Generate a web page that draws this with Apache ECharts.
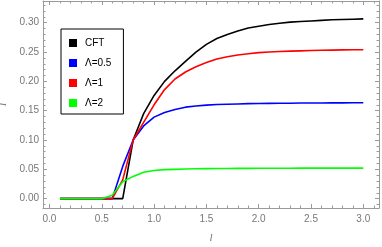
<!DOCTYPE html>
<html><head><meta charset="utf-8">
<script src="https://cdn.jsdelivr.net/npm/echarts@6/dist/echarts.min.js"></script>
<style>html,body{margin:0;padding:0;background:#fff}#c{width:382px;height:247px}</style>
</head><body><div id="c"></div>
<script>
const xs = [0.1,0.2,0.3,0.4,0.5,0.6,0.7,0.8,0.9,1.0,1.1,1.2,1.3,1.4,1.5,1.6,1.7,1.8,1.9,2.0,2.1,2.2,2.3,2.4,2.5,2.6,2.7,2.8,2.9,3.0];
const cft   = [0,0,0,0,0,0,0,0.100,0.145,0.176,0.200,0.218,0.234,0.250,0.263,0.273,0.280,0.286,0.291,0.294,0.297,0.299,0.301,0.302,0.303,0.304,0.305,0.3055,0.306,0.3065];
const lam05 = [0,0,0,0,0,0,0.055,0.100,0.124,0.139,0.147,0.152,0.156,0.158,0.1595,0.1605,0.161,0.1615,0.162,0.1622,0.1624,0.1626,0.1628,0.163,0.163,0.1632,0.1633,0.1634,0.1635,0.1636];
const lam1  = [0,0,0,0,0,0,0.032,0.100,0.130,0.160,0.186,0.204,0.216,0.225,0.232,0.238,0.242,0.245,0.247,0.249,0.250,0.251,0.2515,0.252,0.2525,0.253,0.2533,0.2536,0.2538,0.254];
const lam2  = [0,0,0,0,0,0.006,0.029,0.038,0.045,0.048,0.0495,0.050,0.0505,0.051,0.0512,0.0514,0.0515,0.0516,0.0517,0.0518,0.0518,0.0519,0.0519,0.052,0.052,0.052,0.052,0.052,0.052,0.052];
const seriesNames = ['CFT','Λ=0.5','Λ=1','Λ=2'];
const seriesColors = ['#000000','#0000ff','#ff0000','#00ff00'];
const xMajor = [0,0.5,1.0,1.5,2.0,2.5,3.0];
const xMinor = [0.1,0.2,0.3,0.4,0.6,0.7,0.8,0.9,1.1,1.2,1.3,1.4,1.6,1.7,1.8,1.9,2.1,2.2,2.3,2.4,2.6,2.7,2.8,2.9,3.1];
const yMajor = [0,0.05,0.10,0.15,0.20,0.25,0.30];
const yMinor = [-0.01,0.01,0.02,0.03,0.04,0.06,0.07,0.08,0.09,0.11,0.12,0.13,0.14,0.16,0.17,0.18,0.19,0.21,0.22,0.23,0.24,0.26,0.27,0.28,0.29,0.31,0.32,0.33];
const XMIN=-0.062, XMAX=3.150, YMIN=-0.0159, YMAX=0.337;
const frame = '#9a9a9a', lab = '#777777';
function xa(pos, vals, len, labels, line){
  return {type:'value', position:pos, min:XMIN, max:XMAX, splitLine:{show:false},
    axisLine:{show:line, onZero:false, lineStyle:{color:frame,width:1}},
    axisTick:{show:true, inside:true, length:len, customValues:vals, lineStyle:{color:frame}},
    axisLabel:{show:labels, customValues:vals, formatter:v=>v.toFixed(1), color:lab, fontSize:10, fontFamily:'Liberation Sans', margin:6}};
}
function ya(pos, vals, len, labels, line){
  return {type:'value', position:pos, min:YMIN, max:YMAX, splitLine:{show:false},
    axisLine:{show:line, onZero:false, lineStyle:{color:frame,width:1}},
    axisTick:{show:true, inside:true, length:len, customValues:vals, lineStyle:{color:frame}},
    axisLabel:{show:labels, customValues:vals, formatter:v=>v.toFixed(2), color:lab, fontSize:10, fontFamily:'Liberation Sans', margin:4}};
}
const xAxes=[xa('bottom',xMajor,4,true,true), xa('bottom',xMinor,2.5,false,false), xa('top',xMajor,4,false,true), xa('top',xMinor,2.5,false,false)];
xAxes[0].name='l'; xAxes[0].nameLocation='middle'; xAxes[0].nameGap=25;
xAxes[0].nameTextStyle={color:lab,fontSize:11,fontStyle:'italic',fontFamily:'Liberation Serif'};
const yAxes=[ya('left',yMajor,4,true,true), ya('left',yMinor,2.5,false,false), ya('right',yMajor,4,false,true), ya('right',yMinor,2.5,false,false)];
yAxes[0].name='I'; yAxes[0].nameLocation='middle'; yAxes[0].nameGap=33;
yAxes[0].nameTextStyle={color:lab,fontSize:11,fontStyle:'italic',fontFamily:'Liberation Serif'};
const allData=[cft,lam05,lam1,lam2];
const chart=echarts.init(document.getElementById('c'),null,{renderer:'canvas'});
chart.setOption({
  animation:false,
  grid:{left:43,right:3,top:1,bottom:39,containLabel:false,outerBoundsMode:'none'},
  xAxis:xAxes, yAxis:yAxes,
  legend:{left:61,top:29,orient:'vertical',data:seriesNames,icon:'rect',itemWidth:8,itemHeight:8,itemGap:10,
    backgroundColor:'#fff',borderColor:'#000',borderWidth:1,padding:[9,12,6,8],
    textStyle:{color:'#000',fontSize:10,fontFamily:'Liberation Sans',padding:[0,0,0,3]}},
  series:allData.map((d,i)=>({name:seriesNames[i],type:'line',xAxisIndex:0,yAxisIndex:0,
    showSymbol:false,symbol:'none',color:seriesColors[i],lineStyle:{color:seriesColors[i],width:1.6},
    data:xs.map((x,j)=>[x,d[j]])}))
});
</script></body></html>
